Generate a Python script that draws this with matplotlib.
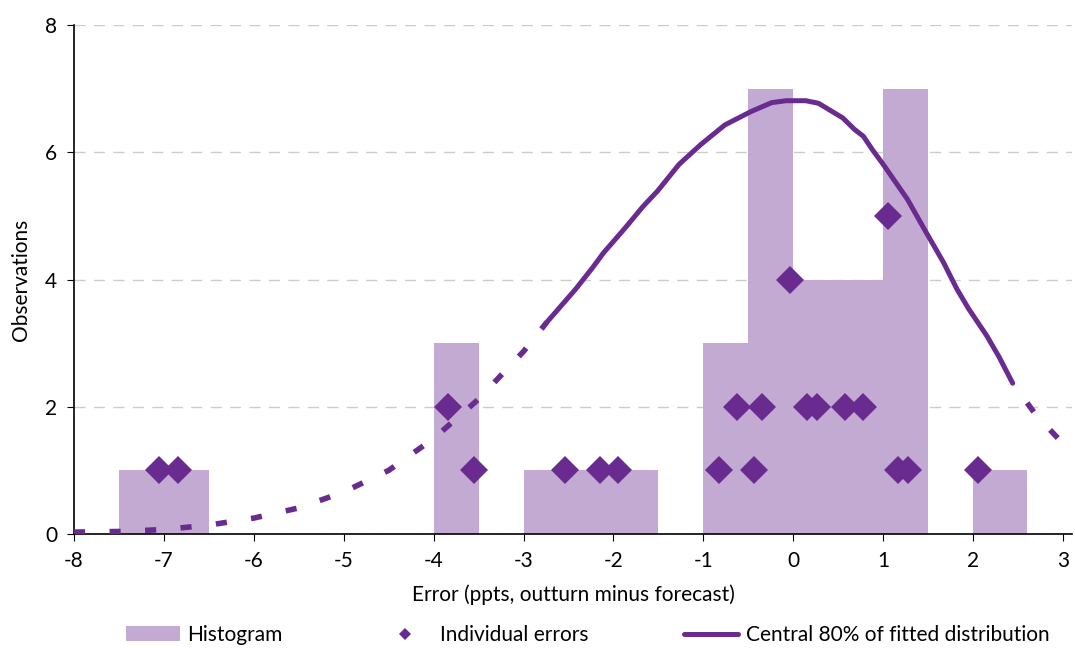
import numpy as np
import matplotlib.pyplot as plt
from matplotlib.lines import Line2D

plt.rcParams['font.family'] = ['Lato', 'DejaVu Sans']
plt.rcParams['axes.unicode_minus'] = False

# histogram bins (left edge, width, height)
bin_left = [-7.5, -4.0, -3.0, -1.0, -0.5, 0.0, 1.0, 2.0]
bin_width = [1.0, 0.5, 1.5, 0.5, 0.5, 1.0, 0.5, 0.6]
bin_height = [1, 3, 1, 3, 7, 4, 7, 1]

# individual forecast errors
err_x = [-7.06, -6.84, -3.84, -3.55, -2.54, -2.15, -1.95, -0.83, -0.63, -0.44,
         -0.35, -0.04, 0.15, 0.26, 0.57, 0.77, 1.05, 1.16, 1.28, 2.06]
err_y = [1, 1, 2, 1, 1, 1, 1, 1, 2, 1, 2, 4, 2, 2, 2, 2, 5, 1, 1, 1]

# fitted distribution - tails (dashed) and central 80% (solid)
left_x = [-8.0, -7.5, -7.0, -6.5, -6.0, -5.5, -5.0, -4.5, -4.0, -3.5, -3.0, -2.74]
left_y = [0.03, 0.04, 0.07, 0.14, 0.25, 0.41, 0.66, 1.0, 1.5, 2.12, 2.87, 3.33]
mid_x = [-2.74, -2.42, -2.23, -2.11, -1.87, -1.67, -1.51, -1.27, -1.03, -0.76,
         -0.47, -0.24, -0.08, 0.14, 0.28, 0.55, 0.68, 0.78, 0.88, 1.0,
         1.27, 1.47, 1.67, 1.82, 1.95, 2.15, 2.29, 2.44]
mid_y = [3.33, 3.85, 4.19, 4.42, 4.81, 5.15, 5.39, 5.81, 6.12, 6.43,
         6.64, 6.78, 6.81, 6.81, 6.77, 6.54, 6.36, 6.25, 6.04, 5.81,
         5.26, 4.76, 4.27, 3.85, 3.54, 3.12, 2.78, 2.37]
right_x = [2.44, 2.7, 3.0]
right_y = [2.37, 1.87, 1.42]

dark = '#692b90'
light = '#c3aad2'

fig = plt.figure(figsize=(10.75, 6.48), dpi=100)
ax = fig.add_axes([74/1075, 114/648, 998/1075, 509/648])

bars = ax.bar(bin_left, bin_height, width=bin_width, align='edge', color=light,
              linewidth=0, zorder=2, label='Histogram')
pts, = ax.plot(err_x, err_y, 'D', color=dark, markersize=14.5, markeredgewidth=0,
               zorder=4, label='Individual errors')
ax.plot(left_x, left_y, color=dark, lw=4, ls=(0, (2.0, 4.4)),
        dash_capstyle='butt', zorder=3)
ax.plot(right_x, right_y, color=dark, lw=4, ls=(2.0, (2.0, 4.4)),
        dash_capstyle='butt', zorder=3)
line, = ax.plot(mid_x, mid_y, color=dark, lw=3.6, solid_capstyle='round',
                zorder=3, label='Central 80% of fitted distribution')

ax.set_xlim(-8, 3.1)
ax.set_ylim(0, 8)
ax.set_xticks(range(-8, 4))
ax.set_yticks([0, 2, 4, 6, 8])
ax.yaxis.grid(True, color='#cccccc', ls=(0, (8, 6)), lw=1, zorder=1)
ax.set_axisbelow(True)
for s in ['top', 'right']:
    ax.spines[s].set_visible(False)
ax.spines['left'].set_linewidth(1.2)
ax.spines['bottom'].set_linewidth(1.2)
ax.tick_params(axis='x', direction='out', length=5, pad=7, labelsize=15)
ax.tick_params(axis='y', direction='out', length=5, pad=7, labelsize=15)

ax.set_xlabel('Error (ppts, outturn minus forecast)', fontsize=15, labelpad=10)
ax.set_ylabel('Observations', fontsize=15, labelpad=10)

fig.legend(handles=[bars, pts, line], loc='center', ncol=3,
           bbox_to_anchor=(0.5465, 0.02), frameon=False, fontsize=15,
           handlelength=2.6, handletextpad=0.35, columnspacing=4.6,
           markerscale=0.45, borderpad=0.1)

plt.savefig('out.png')
